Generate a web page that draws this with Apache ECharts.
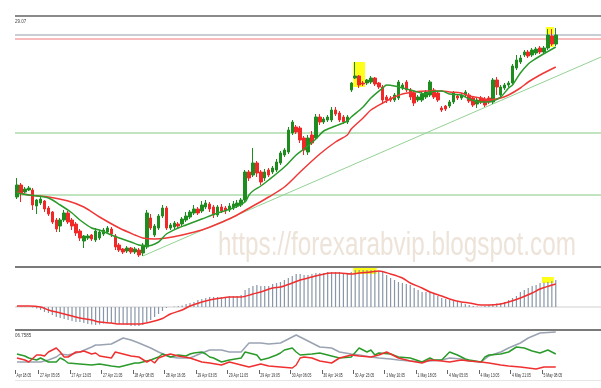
<!DOCTYPE html>
<html><head><meta charset="utf-8">
<script src="https://cdn.jsdelivr.net/npm/echarts@6/dist/echarts.min.js"></script>
<style>html,body{margin:0;padding:0;background:#fff}#c{width:601px;height:388px}</style>
</head><body><div id="c"></div>
<script>
// time axis labels and the bar they sit on
const tickLabels = ["Apr 18:05","27 Apr 05:05","27 Apr 13:05","27 Apr 21:05","28 Apr 08:05","28 Apr 16:05","29 Apr 03:05","29 Apr 11:05","29 Apr 19:05","30 Apr 06:05","30 Apr 14:05","30 Apr 23:05","1 May 10:05","1 May 18:05","4 May 05:05","4 May 13:05","4 May 21:05","5 May 08:05"];
const tickBars = [0,6,14,22,30,38,46,54,62,70,78,86,94,102,110,118,126,134];
const slotCount = 149;

// candles: [open, close, low, high]
const candles = [
[70,82,68,89],[82,74,65,84],[75,78,74,80],[77,79,76,81],[77,62,57,79],[61,67,53,68],[64,68,62,70],[66,58,55,67],[59,53,51,61],[55,45,43,56],
[47,38,35,49],[41,47,35,49],[47,54,45,57],[54,45,43,56],[47,41,37,49],[43,34,31,45],[36,29,26,38],[26,31,19,32],[29,31,27,33],[32,28,26,33],
[27,36,25,39],[29,35,27,37],[33,37,31,39],[35,39,33,41],[38,33,30,40],[31,20,17,33],[22,17,15,24],[18,15,13,19],[16,19,14,21],[19,15,13,20],
[15,18,13,20],[17,12,10,19],[14,22,11,24],[20,54,18,57],[49,39,37,53],[32,41,30,43],[39,51,37,53],[51,59,49,62],[59,39,37,61],[39,42,37,44],
[40,44,38,46],[43,41,38,45],[43,48,41,50],[47,51,45,55],[50,55,48,57],[54,58,52,62],[58,54,52,60],[56,62,54,66],[60,64,58,67],[63,58,55,65],
[60,52,49,62],[52,60,50,62],[60,56,54,63],[59,56,53,61],[57,61,55,64],[59,63,57,66],[61,64,59,67],[62,67,60,69],[67,95,65,97],[95,89,86,97],
[92,104,90,119],[104,94,90,106],[95,85,82,97],[89,95,86,98],[97,92,90,99],[95,99,93,101],[97,105,95,108],[104,114,102,116],[112,117,110,119],[115,137,113,140],
[134,145,132,147],[140,135,133,142],[139,127,124,141],[129,117,112,131],[115,129,112,132],[132,124,122,136],[129,150,127,153],[150,145,142,153],[145,148,143,150],[147,150,145,152],
[147,157,145,160],[157,153,151,160],[154,147,145,156],[150,145,143,152],[145,150,143,152],[177,184,175,185],[189,191,188,205],[191,182,179,192],[184,183,181,186],[184,187,182,188],
[185,189,183,191],[189,183,181,190],[184,180,178,185],[180,167,164,182],[170,167,164,172],[169,167,165,171],[167,172,165,174],[169,185,167,187],[179,182,177,184],[185,177,175,187],
[177,170,167,179],[174,164,161,176],[167,170,165,172],[167,173,165,175],[170,175,168,177],[172,185,170,187],[177,170,168,179],[174,167,165,176],[159,157,155,161],[161,158,156,162],
[161,165,159,167],[165,174,163,176],[171,169,167,173],[169,172,167,174],[172,175,170,177],[172,166,164,174],[169,162,160,171],[163,167,159,169],[169,165,163,171],[168,162,160,170],
[169,165,163,171],[165,187,163,189],[187,180,172,190],[172,180,170,182],[179,182,177,184],[182,184,180,186],[184,201,182,203],[199,207,197,212],[205,209,203,212],[212,215,210,217],
[215,211,209,217],[212,217,210,219],[214,218,212,220],[219,215,213,221],[215,219,213,221],[219,232,217,238],[231,223,221,238],[223,232,221,239]
];

// moving averages: [bar, value]
const maFast = [[0,74],[3,72],[8,69],[11,62],[14,54],[16,47],[19,39],[21,37],[24,32],[26,29],[29,25],[31,22],[33,21],[36,25],[38,33],[41,39],[43,42],[47,48],[51,54],[55,59],[58,65],[59,72],[60,76],[62,81],[64,87],[68,100],[71,112],[73,118],[76,128],[78,136],[81,141],[84,146],[85,150],[88,160],[90,169],[93,179],[94,182],[96,181],[99,178],[101,176],[104,173],[105,175],[108,176],[110,173],[113,172],[115,168],[118,165],[120,165],[123,170],[125,179],[126,182],[128,194],[130,203],[131,206],[133,211],[137,220]];
const maSlow = [[0,75],[3,72],[8,70],[13,66],[17,60],[21,50],[26,39],[30,32],[32,29],[35,28],[38,29],[42,32],[47,37],[51,43],[55,50],[60,61],[64,70],[68,80],[72,95],[77,113],[81,125],[84,132],[85,138],[88,149],[90,157],[93,164],[96,170],[98,173],[101,175],[104,176],[108,176],[110,175],[113,174],[115,171],[118,169],[120,167],[123,169],[125,172],[128,179],[130,185],[133,192],[137,200]];
const trendLine = [[32,11],[148.5,210]];
const levelGray = 232, levelRed = 228, levelGreen = [134, 72];
const highlightsMain = [[86,88,180,205],[135,136,220,240]];

// MACD
const macdHist = [0.5,0.5,0.3,0,-0.5,-1.5,-3,-5,-6,-8,
-10,-11,-12,-13,-14,-15,-15,-16,-17,-17.5,
-18,-17.5,-16.5,-16,-16,-17,-17,-17.5,-18,-19,
-19,-19,-18,-15,-13,-10,-7,-4,-1,0,
0.5,1,1.5,3,4,5,7,8,9,10,
10,10,10,10,11,11,11,12,17,19,
21,22,21,21,21,23,24,25,27,29,
31,33,33,32,32,33,34,34,34,35,
35,35,35,34,34,35,37,37,37,37,
37,37,36,35,32,29,27,25,24,23,
22,19,17,15,15,15,13,11,9,8,
7,6,5,4,3,2,1,0.5,0.3,1,
2,3,3.5,4,5,7,9,11,15,17,
19,21,22,24,24.5,25,26,27];
const macdSignal = [[0,1],[3,1],[6,0],[8,-3],[11,-6],[14,-9],[16,-11],[19,-13],[21,-15],[24,-16],[26,-17],[29,-17],[31,-17],[34,-15],[37,-11.5],[39,-7],[42,-3],[44,1],[47,5],[49,7],[52,9],[54,10],[57,10],[60,13],[62,15],[65,19],[67,20],[70,24],[72,27],[75,30],[77,32],[80,34],[82,34],[85,33],[87,34],[90,35],[92,36],[95,33],[98,29],[100,24],[103,19],[105,15],[108,11],[110,8],[113,5],[115,4],[118,2],[120,2],[123,3],[125,5],[128,9],[131,14],[133,18],[137,23]];
const highlightsMacd = [[86,91,33,40],[134,136,24,30]];

// ADX panel
const adxLine = [[0,8],[3,8],[6,8],[8,10],[10,13],[11,16],[13,15],[16,18],[19,23],[20,25],[21,25],[24,26],[26,30],[27,32],[29,30],[31,27],[34,22],[36,18],[39,13],[41,12],[44,12],[47,17],[49,20],[52,20],[54,18],[57,18],[59,27],[62,27],[64,26],[67,27],[70,33],[71,35],[72,33],[75,27],[77,23],[80,22],[82,18],[85,16],[87,15],[90,13],[92,12],[95,11],[97,10],[100,9],[103,8],[105,9],[108,10],[110,12],[113,11],[115,9],[118,8],[120,14],[123,18],[125,22],[128,27],[130,32],[133,37],[137,38]];
const plusDI = [[0,16],[2,14],[3,12],[5,10],[6,12],[7,10],[8,8],[10,8],[11,12],[12,10],[13,7],[16,6],[19,5],[21,6],[24,4],[26,3],[28,5],[30,7],[31,7],[34,10],[36,13],[37,16],[39,13],[41,15],[43,14],[44,16],[45,17],[47,18],[48,16],[49,13],[50,12],[52,8],[54,10],[57,12],[58,18],[59,17],[61,15],[62,10],[64,12],[66,15],[67,17],[68,20],[70,22],[71,18],[72,15],[75,16],[77,17],[80,14],[82,12],[85,13],[87,22],[89,18],[90,20],[91,15],[92,17],[95,16],[97,13],[100,12],[103,8],[105,12],[106,10],[108,10],[110,18],[112,15],[114,11],[115,10],[118,8],[119,13],[120,15],[123,16],[125,18],[127,23],[129,22],[131,19],[133,17],[135,20],[137,16]];
const minusDI = [[0,12],[2,10],[3,8],[5,15],[6,15],[7,14],[8,18],[10,22],[11,18],[12,13],[13,13],[15,18],[16,18],[17,19],[19,16],[20,17],[21,14],[24,12],[25,18],[26,17],[29,14],[31,13],[33,8],[34,10],[35,7],[36,12],[38,15],[39,16],[41,14],[44,12],[47,8],[49,7],[52,5],[54,8],[57,5],[59,3],[62,6],[64,4],[67,3],[70,2],[71,5],[72,12],[73,13],[75,12],[77,9],[80,7],[82,12],[85,15],[87,14],[90,13],[92,15],[94,18],[95,16],[97,12],[100,9],[103,7],[105,10],[108,9],[110,8],[113,10],[115,9],[118,8],[120,7],[123,5],[125,4],[128,3],[130,2],[132,1],[134,3],[137,3]];

const topLabel = "29.07";
const adxLabel = "06.7585";
const watermark = "https://forexarabvip.blogspot.com";

const cats = Array.from({length: slotCount}, (_, i) => String(i));
const labelAt = {};
tickBars.forEach((b, k) => labelAt[b] = tickLabels[k]);
const showTick = (idx) => labelAt[idx] !== undefined;

const GREEN = '#1f8c1f', RED = '#f02828';
const yellow = 'rgba(255,255,0,0.9)';
const areaData = (list) => list.map(h => [{xAxis: h[0] - 0.5, yAxis: h[2]}, {xAxis: h[1] + 0.5, yAxis: h[3]}]);
const sans = "'Liberation Sans',Arial,sans-serif";
const xMin = -0.5, xMax = slotCount - 0.5;

// a full-width horizontal level drawn as a two-point line on the value x axis
function levelSeries(xi, yi, value, color, width) {
  return {type: 'line', xAxisIndex: xi, yAxisIndex: yi, z: 1, symbol: 'none', silent: true,
    data: [[xMin, value], [xMax, value]],
    lineStyle: {color: color, width: width}, itemStyle: {color: color}};
}

const chart = echarts.init(document.getElementById('c'), null, {renderer: 'canvas'});
chart.setOption({
  animation: false,
  backgroundColor: '#ffffff',
  grid: [
    {left: 15, right: 0, top: 17, height: 250},
    {left: 15, right: 0, top: 268, height: 61},
    {left: 15, right: 0, top: 331, height: 39}
  ],
  xAxis: [
    {type: 'category', gridIndex: 0, data: cats, show: false},
    {type: 'value', gridIndex: 0, min: xMin, max: xMax, show: false},
    {type: 'category', gridIndex: 1, data: cats, show: false},
    {type: 'value', gridIndex: 1, min: xMin, max: xMax, show: false},
    {type: 'category', gridIndex: 2, data: cats,
      axisLine: {show: false},
      axisTick: {show: true, interval: (i) => showTick(i), length: 4, lineStyle: {color: '#666', width: 1}},
      axisLabel: {show: false},
      splitLine: {show: false}},
    {type: 'value', gridIndex: 2, min: xMin, max: xMax, show: false}
  ],
  yAxis: [
    {type: 'value', gridIndex: 0, min: 0, max: 250, show: false, splitLine: {show: false}},
    {type: 'value', gridIndex: 1, min: -22, max: 39, show: false, splitLine: {show: false}},
    {type: 'value', gridIndex: 2, min: 0, max: 39, show: false, splitLine: {show: false}}
  ],
  series: [
    {type: 'line', xAxisIndex: 1, yAxisIndex: 0, data: [], z: 1,
      markArea: {silent: true, itemStyle: {color: yellow}, data: areaData(highlightsMain)}},
    levelSeries(1, 0, levelGray, '#c9ced4', 2),
    levelSeries(1, 0, levelRed, '#f07878', 1),
    levelSeries(1, 0, levelGreen[0], '#82c882', 1),
    levelSeries(1, 0, levelGreen[1], '#82c882', 1),
    {type: 'line', xAxisIndex: 1, yAxisIndex: 0, data: trendLine, symbol: 'none', z: 2,
      lineStyle: {color: '#94d294', width: 1}},
    {type: 'candlestick', xAxisIndex: 0, yAxisIndex: 0, data: candles, barWidth: 3, z: 3,
      itemStyle: {color: GREEN, color0: RED, borderColor: GREEN, borderColor0: RED, borderWidth: 1}},
    {type: 'line', xAxisIndex: 1, yAxisIndex: 0, data: maSlow, symbol: 'none', smooth: 0.3, z: 4,
      lineStyle: {color: '#f03838', width: 1.5}},
    {type: 'line', xAxisIndex: 1, yAxisIndex: 0, data: maFast, symbol: 'none', smooth: 0.3, z: 4,
      lineStyle: {color: '#2a9a2a', width: 1.5}},

    {type: 'line', xAxisIndex: 3, yAxisIndex: 1, data: [], z: 1,
      markArea: {silent: true, itemStyle: {color: yellow}, data: areaData(highlightsMacd)}},
    levelSeries(3, 1, 0, '#d0d0d0', 1),
    {type: 'bar', xAxisIndex: 2, yAxisIndex: 1, data: macdHist, barWidth: 1.2, z: 3,
      itemStyle: {color: '#8896a8'}},
    {type: 'line', xAxisIndex: 3, yAxisIndex: 1, data: macdSignal, symbol: 'none', smooth: 0.3, z: 4,
      lineStyle: {color: '#f03030', width: 1.5}},

    {type: 'line', xAxisIndex: 5, yAxisIndex: 2, data: adxLine, symbol: 'none', z: 3,
      lineStyle: {color: '#9aa3b2', width: 1.5}},
    {type: 'line', xAxisIndex: 5, yAxisIndex: 2, data: plusDI, symbol: 'none', z: 3,
      lineStyle: {color: '#2a9a2a', width: 1.5}},
    {type: 'line', xAxisIndex: 5, yAxisIndex: 2, data: minusDI, symbol: 'none', z: 3,
      lineStyle: {color: '#f03030', width: 1.5}}
  ]
});

// panel frames, captions, watermark and time labels (positions from the axis)
const gfx = [
  {type: 'rect', shape: {x: 15, y: 15, width: 586, height: 2}, style: {fill: '#8a8a8a'}, z: 10},
  {type: 'rect', shape: {x: 15, y: 266, width: 586, height: 2}, style: {fill: '#7a7a7a'}, z: 10},
  {type: 'rect', shape: {x: 15, y: 329, width: 586, height: 2}, style: {fill: '#7a7a7a'}, z: 10},
  {type: 'rect', shape: {x: 15, y: 380, width: 586, height: 1}, style: {fill: '#e6e6e6'}, z: 10},
  {type: 'text', x: 15, y: 18, scaleX: 0.75, style: {text: topLabel, fontSize: 6, fill: '#444', fontFamily: sans}, z: 10},
  {type: 'text', x: 15, y: 332, scaleX: 0.75, style: {text: adxLabel, fontSize: 6, fill: '#444', fontFamily: sans}, z: 10},
  {type: 'text', x: 218, y: 229, scaleX: 0.81, scaleY: 1.12, z: -1,
    style: {text: watermark, fontSize: 30, fill: '#ede3d9', fontFamily: sans, verticalAlign: 'top'}}
];
tickBars.forEach((b, k) => {
  const px = chart.convertToPixel({xAxisIndex: 4}, b);
  gfx.push({type: 'text', x: px - 0.5, y: 372, scaleX: 0.62, z: 10,
    style: {text: tickLabels[k], fontSize: 5.5, fill: '#333', fontFamily: sans, verticalAlign: 'top'}});
});
chart.setOption({graphic: gfx});
</script>
</body></html>
